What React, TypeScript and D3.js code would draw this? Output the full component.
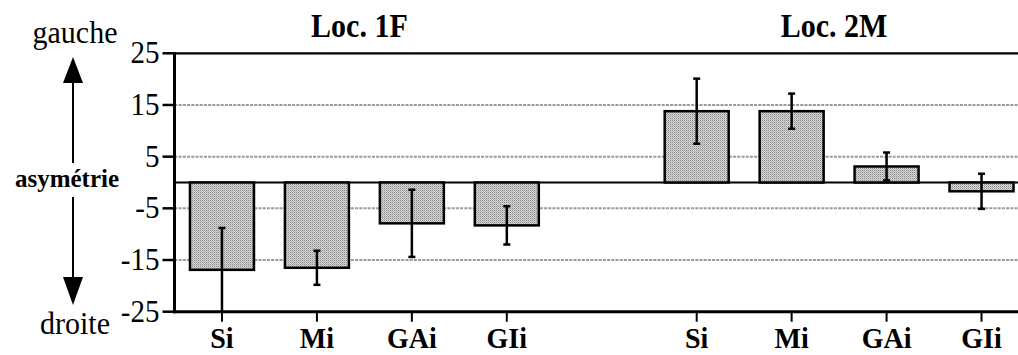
import { useEffect, useRef } from "react"
import * as d3 from "d3"

// measures and their order inside each group
const measures = ["Si", "Mi", "GAi", "GIi"]
const groups = ["Loc. 1F", "Loc. 2M"]

// asymmetry means (gauche > 0, droite < 0) and error half-widths
const loc1FMeans = [-16.9, -16.5, -7.9, -8.3]
const loc1FErrors = [8.1, 3.3, 6.5, 3.7]
const loc2MMeans = [13.8, 13.8, 3.1, -1.7]
const loc2MErrors = [6.3, 3.4, 2.7, 3.4]

const yTicks = [25, 15, 5, -5, -15, -25]
const gridValues = [15, 5, -5, -15]

const W = 1018
const H = 355
const serif = "'Liberation Serif', 'Times New Roman', serif"

export default function App() {
  const svgRef = useRef<SVGSVGElement>(null)

  useEffect(() => {
    if (!svgRef.current) return
    const svg = d3.select(svgRef.current)
    svg.selectAll("*").remove()

    // 9 slots: 4 bars, an empty slot, 4 bars
    const slots = [
      ...measures.map((m) => `0-${m}`),
      "gap",
      ...measures.map((m) => `1-${m}`),
    ]
    const rows = [
      ...measures.map((m, i) => ({ key: `0-${m}`, label: m, value: loc1FMeans[i], err: loc1FErrors[i] })),
      ...measures.map((m, i) => ({ key: `1-${m}`, label: m, value: loc2MMeans[i], err: loc2MErrors[i] })),
    ]

    const x = d3
      .scaleBand()
      .domain(slots)
      .range([174.5, 1029])
      .paddingInner(0.326)
      .paddingOuter(0.163)

    const y = d3.scaleLinear().domain([-25, 25]).range([311.7, 53.3])
    const left = 174.5
    const clampV = (v: number) => Math.max(-25, Math.min(25, v))

    // bar fill pattern (grey dotted raster)
    const defs = svg.append("defs")
    const pat = defs
      .append("pattern")
      .attr("id", "dots")
      .attr("width", 2)
      .attr("height", 2)
      .attr("patternUnits", "userSpaceOnUse")
    pat.append("rect").attr("width", 2).attr("height", 2).attr("fill", "#d6d6d6")
    pat.append("rect").attr("width", 1).attr("height", 1).attr("fill", "#8c8c8c")
    pat.append("rect").attr("x", 1).attr("y", 1).attr("width", 1).attr("height", 1).attr("fill", "#b4b4b4")

    // helper for slightly tall text
    const txt = (
      s: string,
      tx: number,
      ty: number,
      size: number,
      anchor: string,
      bold = false,
      sy = 1
    ) =>
      svg
        .append("text")
        .attr("transform", `translate(${tx},${ty}) scale(1,${sy})`)
        .attr("text-anchor", anchor)
        .attr("font-family", serif)
        .attr("font-size", size)
        .attr("font-weight", bold ? "700" : "400")
        .attr("fill", "#000")
        .text(s)

    // dashed grid
    gridValues.forEach((v) => {
      svg
        .append("line")
        .attr("x1", left)
        .attr("x2", W)
        .attr("y1", y(v))
        .attr("y2", y(v))
        .attr("stroke", "#9a9a9a")
        .attr("stroke-width", 2)
        .attr("stroke-dasharray", "3,1.2")
    })

    // top line and zero line
    svg
      .append("line")
      .attr("x1", left)
      .attr("x2", W)
      .attr("y1", y(25))
      .attr("y2", y(25))
      .attr("stroke", "#000")
      .attr("stroke-width", 2.2)
    svg
      .append("line")
      .attr("x1", left)
      .attr("x2", W)
      .attr("y1", y(0))
      .attr("y2", y(0))
      .attr("stroke", "#000")
      .attr("stroke-width", 2.2)

    // bars
    rows.forEach((d) => {
      const bx = x(d.key) || 0
      svg
        .append("rect")
        .attr("x", bx)
        .attr("width", x.bandwidth())
        .attr("y", y(Math.max(0, d.value)))
        .attr("height", Math.abs(y(d.value) - y(0)))
        .attr("fill", "url(#dots)")
        .attr("stroke", "#000")
        .attr("stroke-width", 2.5)
    })

    // error bars
    rows.forEach((d) => {
      const cx = (x(d.key) || 0) + x.bandwidth() / 2
      const hi = d.value + d.err
      const lo = d.value - d.err
      svg
        .append("line")
        .attr("x1", cx)
        .attr("x2", cx)
        .attr("y1", y(clampV(hi)))
        .attr("y2", y(clampV(lo)))
        .attr("stroke", "#000")
        .attr("stroke-width", 2.5)
      ;[hi, lo].forEach((v) => {
        if (v > 25 || v < -24.9) return
        svg
          .append("line")
          .attr("x1", cx - 3.5)
          .attr("x2", cx + 3.5)
          .attr("y1", y(v))
          .attr("y2", y(v))
          .attr("stroke", "#000")
          .attr("stroke-width", 2.5)
      })
    })

    // left axis
    svg
      .append("line")
      .attr("x1", left)
      .attr("x2", left)
      .attr("y1", y(25) - 1)
      .attr("y2", y(-25) + 1.5)
      .attr("stroke", "#000")
      .attr("stroke-width", 3)
    yTicks.forEach((v) => {
      svg
        .append("line")
        .attr("x1", left - 12)
        .attr("x2", left)
        .attr("y1", y(v))
        .attr("y2", y(v))
        .attr("stroke", "#000")
        .attr("stroke-width", 2.5)
      txt(String(v), left - 15, y(v) + 10, 29, "end", false, 1.1)
    })

    // bottom axis
    svg
      .append("line")
      .attr("x1", left - 1.5)
      .attr("x2", W)
      .attr("y1", y(-25))
      .attr("y2", y(-25))
      .attr("stroke", "#000")
      .attr("stroke-width", 3)
    rows.forEach((d) => {
      const cx = (x(d.key) || 0) + x.bandwidth() / 2
      svg
        .append("line")
        .attr("x1", cx)
        .attr("x2", cx)
        .attr("y1", y(-25))
        .attr("y2", y(-25) + 10)
        .attr("stroke", "#000")
        .attr("stroke-width", 2)
      txt(d.label, cx, 348, 28, "middle", true, 1.08)
    })

    // group titles
    groups.forEach((g, gi) => {
      const first = x(`${gi}-${measures[0]}`) || 0
      const last = (x(`${gi}-${measures[measures.length - 1]}`) || 0) + x.bandwidth()
      txt(g, (first + last) / 2 - 5, 37, 30, "middle", true, 1.12)
    })

    // left side annotation: gauche / asymétrie / droite with arrows
    const ax = 73
    txt("gauche", 75, 43, 30, "middle", false, 1.05)
    txt("asymétrie", 67, 187, 25, "middle", true)
    txt("droite", 75, 334, 30, "middle", false, 1.05)

    svg
      .append("line")
      .attr("x1", ax)
      .attr("x2", ax)
      .attr("y1", 80)
      .attr("y2", 163)
      .attr("stroke", "#000")
      .attr("stroke-width", 2)
    svg
      .append("path")
      .attr("d", `M${ax},57 L${ax - 10},83 L${ax + 10},83 Z`)
      .attr("fill", "#000")
    svg
      .append("line")
      .attr("x1", ax)
      .attr("x2", ax)
      .attr("y1", 197)
      .attr("y2", 280)
      .attr("stroke", "#000")
      .attr("stroke-width", 2)
    svg
      .append("path")
      .attr("d", `M${ax},305 L${ax - 10},277 L${ax + 10},277 Z`)
      .attr("fill", "#000")
  }, [])

  return (
    <svg
      ref={svgRef}
      width={W}
      height={H}
      style={{ position: "absolute", left: 0, top: 0, display: "block", background: "#fff" }}
    />
  )
}
